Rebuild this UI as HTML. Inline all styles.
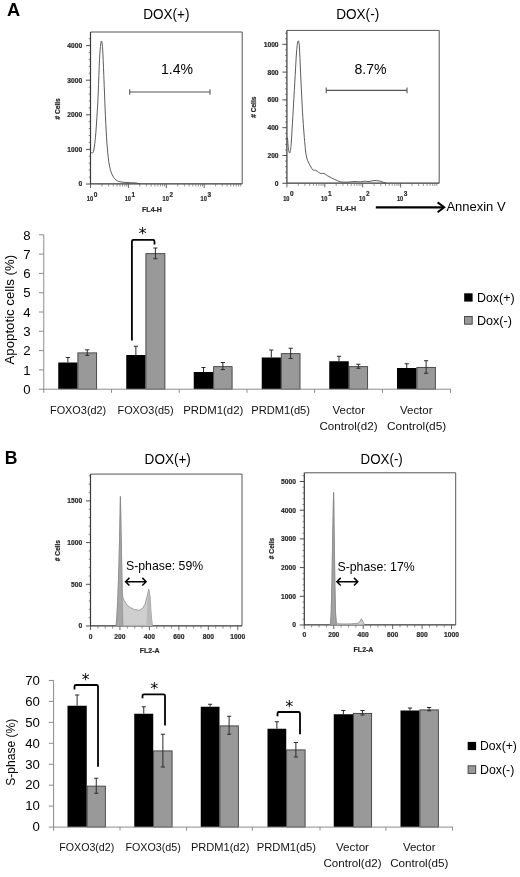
<!DOCTYPE html>
<html lang="en"><head><meta charset="utf-8"><title>Figure</title>
<style>html,body{margin:0;padding:0;background:#fff}svg{display:block}text{font-family:"Liberation Sans", sans-serif}.s{stroke:#2a2a2a;stroke-width:.22px}</style>
</head><body>
<svg width="520" height="877" viewBox="0 0 520 877">
<rect width="520" height="877" fill="#fff"/>
<text x="7.0" y="16.2" font-size="17.6" text-anchor="start" font-weight="bold" fill="#000" textLength="13.2" lengthAdjust="spacingAndGlyphs">A</text>
<text x="4.8" y="463.9" font-size="17.6" text-anchor="start" font-weight="bold" fill="#000">B</text>
<text x="143.2" y="18.7" font-size="14.8" text-anchor="start" font-weight="normal" fill="#000" textLength="46.3" lengthAdjust="spacingAndGlyphs">DOX(+)</text>
<text x="336.2" y="19.3" font-size="15.2" text-anchor="start" font-weight="normal" fill="#000" textLength="43" lengthAdjust="spacingAndGlyphs">DOX(-)</text>
<path d="M90.5 32H242.2V183.8" fill="none" stroke="#555" stroke-width="1"/>
<path d="M90.5 32V183.8H242.2" fill="none" stroke="#3a3a3a" stroke-width="1.2"/>
<line x1="86.0" y1="184" x2="90.5" y2="184" stroke="#3a3a3a" stroke-width="0.9"/>
<text x="82.2" y="186.4" font-size="6.7" text-anchor="end" font-weight="bold" fill="#2a2a2a" class="s">0</text>
<line x1="86.0" y1="149.4" x2="90.5" y2="149.4" stroke="#3a3a3a" stroke-width="0.9"/>
<text x="82.2" y="151.8" font-size="6.7" text-anchor="end" font-weight="bold" fill="#2a2a2a" class="s">1000</text>
<line x1="86.0" y1="114.8" x2="90.5" y2="114.8" stroke="#3a3a3a" stroke-width="0.9"/>
<text x="82.2" y="117.2" font-size="6.7" text-anchor="end" font-weight="bold" fill="#2a2a2a" class="s">2000</text>
<line x1="86.0" y1="80.2" x2="90.5" y2="80.2" stroke="#3a3a3a" stroke-width="0.9"/>
<text x="82.2" y="82.60000000000001" font-size="6.7" text-anchor="end" font-weight="bold" fill="#2a2a2a" class="s">3000</text>
<line x1="86.0" y1="45.6" x2="90.5" y2="45.6" stroke="#3a3a3a" stroke-width="0.9"/>
<text x="82.2" y="48.0" font-size="6.7" text-anchor="end" font-weight="bold" fill="#2a2a2a" class="s">4000</text>
<line x1="88.7" y1="177.08" x2="90.5" y2="177.08" stroke="#3a3a3a" stroke-width="0.6"/>
<line x1="88.7" y1="170.16" x2="90.5" y2="170.16" stroke="#3a3a3a" stroke-width="0.6"/>
<line x1="88.7" y1="163.24" x2="90.5" y2="163.24" stroke="#3a3a3a" stroke-width="0.6"/>
<line x1="88.7" y1="156.32" x2="90.5" y2="156.32" stroke="#3a3a3a" stroke-width="0.6"/>
<line x1="88.7" y1="142.48" x2="90.5" y2="142.48" stroke="#3a3a3a" stroke-width="0.6"/>
<line x1="88.7" y1="135.56" x2="90.5" y2="135.56" stroke="#3a3a3a" stroke-width="0.6"/>
<line x1="88.7" y1="128.64" x2="90.5" y2="128.64" stroke="#3a3a3a" stroke-width="0.6"/>
<line x1="88.7" y1="121.72" x2="90.5" y2="121.72" stroke="#3a3a3a" stroke-width="0.6"/>
<line x1="88.7" y1="107.88" x2="90.5" y2="107.88" stroke="#3a3a3a" stroke-width="0.6"/>
<line x1="88.7" y1="100.96" x2="90.5" y2="100.96" stroke="#3a3a3a" stroke-width="0.6"/>
<line x1="88.7" y1="94.04" x2="90.5" y2="94.04" stroke="#3a3a3a" stroke-width="0.6"/>
<line x1="88.7" y1="87.12" x2="90.5" y2="87.12" stroke="#3a3a3a" stroke-width="0.6"/>
<line x1="88.7" y1="73.28" x2="90.5" y2="73.28" stroke="#3a3a3a" stroke-width="0.6"/>
<line x1="88.7" y1="66.36" x2="90.5" y2="66.36" stroke="#3a3a3a" stroke-width="0.6"/>
<line x1="88.7" y1="59.44" x2="90.5" y2="59.44" stroke="#3a3a3a" stroke-width="0.6"/>
<line x1="88.7" y1="52.52" x2="90.5" y2="52.52" stroke="#3a3a3a" stroke-width="0.6"/>
<line x1="88.7" y1="38.68" x2="90.5" y2="38.68" stroke="#3a3a3a" stroke-width="0.6"/>
<line x1="90.5" y1="183.8" x2="90.5" y2="188.0" stroke="#555" stroke-width="0.9"/>
<line x1="101.91" y1="183.8" x2="101.91" y2="186.5" stroke="#666" stroke-width="0.7"/>
<line x1="108.58" y1="183.8" x2="108.58" y2="186.5" stroke="#666" stroke-width="0.7"/>
<line x1="113.32" y1="183.8" x2="113.32" y2="186.5" stroke="#666" stroke-width="0.7"/>
<line x1="116.99" y1="183.8" x2="116.99" y2="186.5" stroke="#666" stroke-width="0.7"/>
<line x1="119.99" y1="183.8" x2="119.99" y2="186.5" stroke="#666" stroke-width="0.7"/>
<line x1="122.53" y1="183.8" x2="122.53" y2="186.5" stroke="#666" stroke-width="0.7"/>
<line x1="124.73" y1="183.8" x2="124.73" y2="186.5" stroke="#666" stroke-width="0.7"/>
<line x1="126.67" y1="183.8" x2="126.67" y2="186.5" stroke="#666" stroke-width="0.7"/>
<text x="86.8" y="201.2" font-size="7.3" fill="#2a2a2a" font-weight="bold" class="s" textLength="6.3" lengthAdjust="spacingAndGlyphs">10</text>
<text x="93.7" y="196.9" font-size="7.1" fill="#2a2a2a" font-weight="bold" class="s" textLength="3.6" lengthAdjust="spacingAndGlyphs">0</text>
<line x1="128.4" y1="183.8" x2="128.4" y2="188.0" stroke="#555" stroke-width="0.9"/>
<line x1="139.81" y1="183.8" x2="139.81" y2="186.5" stroke="#666" stroke-width="0.7"/>
<line x1="146.48" y1="183.8" x2="146.48" y2="186.5" stroke="#666" stroke-width="0.7"/>
<line x1="151.22" y1="183.8" x2="151.22" y2="186.5" stroke="#666" stroke-width="0.7"/>
<line x1="154.89" y1="183.8" x2="154.89" y2="186.5" stroke="#666" stroke-width="0.7"/>
<line x1="157.89" y1="183.8" x2="157.89" y2="186.5" stroke="#666" stroke-width="0.7"/>
<line x1="160.43" y1="183.8" x2="160.43" y2="186.5" stroke="#666" stroke-width="0.7"/>
<line x1="162.63" y1="183.8" x2="162.63" y2="186.5" stroke="#666" stroke-width="0.7"/>
<line x1="164.57" y1="183.8" x2="164.57" y2="186.5" stroke="#666" stroke-width="0.7"/>
<text x="124.7" y="201.2" font-size="7.3" fill="#2a2a2a" font-weight="bold" class="s" textLength="6.3" lengthAdjust="spacingAndGlyphs">10</text>
<text x="131.6" y="196.9" font-size="7.1" fill="#2a2a2a" font-weight="bold" class="s" textLength="3.6" lengthAdjust="spacingAndGlyphs">1</text>
<line x1="166.3" y1="183.8" x2="166.3" y2="188.0" stroke="#555" stroke-width="0.9"/>
<line x1="177.71" y1="183.8" x2="177.71" y2="186.5" stroke="#666" stroke-width="0.7"/>
<line x1="184.38" y1="183.8" x2="184.38" y2="186.5" stroke="#666" stroke-width="0.7"/>
<line x1="189.12" y1="183.8" x2="189.12" y2="186.5" stroke="#666" stroke-width="0.7"/>
<line x1="192.79" y1="183.8" x2="192.79" y2="186.5" stroke="#666" stroke-width="0.7"/>
<line x1="195.79" y1="183.8" x2="195.79" y2="186.5" stroke="#666" stroke-width="0.7"/>
<line x1="198.33" y1="183.8" x2="198.33" y2="186.5" stroke="#666" stroke-width="0.7"/>
<line x1="200.53" y1="183.8" x2="200.53" y2="186.5" stroke="#666" stroke-width="0.7"/>
<line x1="202.47" y1="183.8" x2="202.47" y2="186.5" stroke="#666" stroke-width="0.7"/>
<text x="162.6" y="201.2" font-size="7.3" fill="#2a2a2a" font-weight="bold" class="s" textLength="6.3" lengthAdjust="spacingAndGlyphs">10</text>
<text x="169.5" y="196.9" font-size="7.1" fill="#2a2a2a" font-weight="bold" class="s" textLength="3.6" lengthAdjust="spacingAndGlyphs">2</text>
<line x1="204.2" y1="183.8" x2="204.2" y2="188.0" stroke="#555" stroke-width="0.9"/>
<line x1="215.61" y1="183.8" x2="215.61" y2="186.5" stroke="#666" stroke-width="0.7"/>
<line x1="222.28" y1="183.8" x2="222.28" y2="186.5" stroke="#666" stroke-width="0.7"/>
<line x1="227.02" y1="183.8" x2="227.02" y2="186.5" stroke="#666" stroke-width="0.7"/>
<line x1="230.69" y1="183.8" x2="230.69" y2="186.5" stroke="#666" stroke-width="0.7"/>
<line x1="233.69" y1="183.8" x2="233.69" y2="186.5" stroke="#666" stroke-width="0.7"/>
<line x1="236.23" y1="183.8" x2="236.23" y2="186.5" stroke="#666" stroke-width="0.7"/>
<line x1="238.43" y1="183.8" x2="238.43" y2="186.5" stroke="#666" stroke-width="0.7"/>
<line x1="240.37" y1="183.8" x2="240.37" y2="186.5" stroke="#666" stroke-width="0.7"/>
<text x="200.5" y="201.2" font-size="7.3" fill="#2a2a2a" font-weight="bold" class="s" textLength="6.3" lengthAdjust="spacingAndGlyphs">10</text>
<text x="207.4" y="196.9" font-size="7.1" fill="#2a2a2a" font-weight="bold" class="s" textLength="3.6" lengthAdjust="spacingAndGlyphs">3</text>
<text transform="translate(60.1 108.9) rotate(-90)" font-size="6.6" text-anchor="middle" font-weight="bold" fill="#2a2a2a" class="s"># Cells</text>
<text x="152" y="212.4" font-size="7.0" text-anchor="middle" font-weight="bold" fill="#2a2a2a" class="s">FL4-H</text>
<path d="M91.2 152.6 C92.3 153.4 93 153 93.6 151.3 C94.6 146 95.2 140 95.9 132.2 C96.6 122 97.2 113 97.8 103 C98.3 91 98.8 78 99.2 66.5 C99.6 57 100 50 100.5 46.4 C100.8 43 101.1 41 101.4 41 C101.8 41 102.1 43 102.5 46.4 C103 55 103.4 65 103.8 75.6 C104.3 89 104.9 103 105.4 115.8 C105.9 126 106.4 135 106.9 143.1 C107.5 150 108.1 156 108.7 161.4 C109.3 165 109.9 168 110.5 170.5 C111.4 173 112.3 175.2 113.3 176.9 C114.2 178.2 115.1 179.2 116 180 C117 180.7 117.9 181.2 118.8 181.5 C121 182 123 182.3 125.1 182.4 C129 182.6 132 182.7 136 183 C137.5 183.2 138.5 183.5 139.7 183.8" fill="none" stroke="#4a4a4a" stroke-width="0.9"/>
<path d="M129.7 92H210M129.7 89.2V94.8M210 89.2V94.8" fill="none" stroke="#555" stroke-width="1.1"/>
<text x="161" y="74.2" font-size="14" text-anchor="start" font-weight="normal" fill="#000" textLength="32" lengthAdjust="spacingAndGlyphs">1.4%</text>
<path d="M286.9 30.4H439.2V183.2" fill="none" stroke="#555" stroke-width="1"/>
<path d="M286.9 30.4V183.2H439.2" fill="none" stroke="#3a3a3a" stroke-width="1.2"/>
<line x1="282.4" y1="183.3" x2="286.9" y2="183.3" stroke="#3a3a3a" stroke-width="0.9"/>
<text x="278.59999999999997" y="185.70000000000002" font-size="6.7" text-anchor="end" font-weight="bold" fill="#2a2a2a" class="s">0</text>
<line x1="282.4" y1="155.5" x2="286.9" y2="155.5" stroke="#3a3a3a" stroke-width="0.9"/>
<text x="278.59999999999997" y="157.9" font-size="6.7" text-anchor="end" font-weight="bold" fill="#2a2a2a" class="s">200</text>
<line x1="282.4" y1="127.7" x2="286.9" y2="127.7" stroke="#3a3a3a" stroke-width="0.9"/>
<text x="278.59999999999997" y="130.1" font-size="6.7" text-anchor="end" font-weight="bold" fill="#2a2a2a" class="s">400</text>
<line x1="282.4" y1="99.9" x2="286.9" y2="99.9" stroke="#3a3a3a" stroke-width="0.9"/>
<text x="278.59999999999997" y="102.30000000000001" font-size="6.7" text-anchor="end" font-weight="bold" fill="#2a2a2a" class="s">600</text>
<line x1="282.4" y1="72.1" x2="286.9" y2="72.1" stroke="#3a3a3a" stroke-width="0.9"/>
<text x="278.59999999999997" y="74.5" font-size="6.7" text-anchor="end" font-weight="bold" fill="#2a2a2a" class="s">800</text>
<line x1="282.4" y1="44.3" x2="286.9" y2="44.3" stroke="#3a3a3a" stroke-width="0.9"/>
<text x="278.59999999999997" y="46.699999999999996" font-size="6.7" text-anchor="end" font-weight="bold" fill="#2a2a2a" class="s">1000</text>
<line x1="285.09999999999997" y1="177.74" x2="286.9" y2="177.74" stroke="#3a3a3a" stroke-width="0.6"/>
<line x1="285.09999999999997" y1="172.18" x2="286.9" y2="172.18" stroke="#3a3a3a" stroke-width="0.6"/>
<line x1="285.09999999999997" y1="166.62" x2="286.9" y2="166.62" stroke="#3a3a3a" stroke-width="0.6"/>
<line x1="285.09999999999997" y1="161.06" x2="286.9" y2="161.06" stroke="#3a3a3a" stroke-width="0.6"/>
<line x1="285.09999999999997" y1="149.94" x2="286.9" y2="149.94" stroke="#3a3a3a" stroke-width="0.6"/>
<line x1="285.09999999999997" y1="144.38" x2="286.9" y2="144.38" stroke="#3a3a3a" stroke-width="0.6"/>
<line x1="285.09999999999997" y1="138.82" x2="286.9" y2="138.82" stroke="#3a3a3a" stroke-width="0.6"/>
<line x1="285.09999999999997" y1="133.26" x2="286.9" y2="133.26" stroke="#3a3a3a" stroke-width="0.6"/>
<line x1="285.09999999999997" y1="122.14" x2="286.9" y2="122.14" stroke="#3a3a3a" stroke-width="0.6"/>
<line x1="285.09999999999997" y1="116.58" x2="286.9" y2="116.58" stroke="#3a3a3a" stroke-width="0.6"/>
<line x1="285.09999999999997" y1="111.02" x2="286.9" y2="111.02" stroke="#3a3a3a" stroke-width="0.6"/>
<line x1="285.09999999999997" y1="105.46" x2="286.9" y2="105.46" stroke="#3a3a3a" stroke-width="0.6"/>
<line x1="285.09999999999997" y1="94.34" x2="286.9" y2="94.34" stroke="#3a3a3a" stroke-width="0.6"/>
<line x1="285.09999999999997" y1="88.78" x2="286.9" y2="88.78" stroke="#3a3a3a" stroke-width="0.6"/>
<line x1="285.09999999999997" y1="83.22" x2="286.9" y2="83.22" stroke="#3a3a3a" stroke-width="0.6"/>
<line x1="285.09999999999997" y1="77.66" x2="286.9" y2="77.66" stroke="#3a3a3a" stroke-width="0.6"/>
<line x1="285.09999999999997" y1="66.54" x2="286.9" y2="66.54" stroke="#3a3a3a" stroke-width="0.6"/>
<line x1="285.09999999999997" y1="60.98" x2="286.9" y2="60.98" stroke="#3a3a3a" stroke-width="0.6"/>
<line x1="285.09999999999997" y1="55.42" x2="286.9" y2="55.42" stroke="#3a3a3a" stroke-width="0.6"/>
<line x1="285.09999999999997" y1="49.86" x2="286.9" y2="49.86" stroke="#3a3a3a" stroke-width="0.6"/>
<line x1="285.09999999999997" y1="38.74" x2="286.9" y2="38.74" stroke="#3a3a3a" stroke-width="0.6"/>
<line x1="285.09999999999997" y1="33.18" x2="286.9" y2="33.18" stroke="#3a3a3a" stroke-width="0.6"/>
<line x1="286.9" y1="183.2" x2="286.9" y2="187.39999999999998" stroke="#555" stroke-width="0.9"/>
<line x1="298.31" y1="183.2" x2="298.31" y2="185.89999999999998" stroke="#666" stroke-width="0.7"/>
<line x1="304.98" y1="183.2" x2="304.98" y2="185.89999999999998" stroke="#666" stroke-width="0.7"/>
<line x1="309.72" y1="183.2" x2="309.72" y2="185.89999999999998" stroke="#666" stroke-width="0.7"/>
<line x1="313.39" y1="183.2" x2="313.39" y2="185.89999999999998" stroke="#666" stroke-width="0.7"/>
<line x1="316.39" y1="183.2" x2="316.39" y2="185.89999999999998" stroke="#666" stroke-width="0.7"/>
<line x1="318.93" y1="183.2" x2="318.93" y2="185.89999999999998" stroke="#666" stroke-width="0.7"/>
<line x1="321.13" y1="183.2" x2="321.13" y2="185.89999999999998" stroke="#666" stroke-width="0.7"/>
<line x1="323.07" y1="183.2" x2="323.07" y2="185.89999999999998" stroke="#666" stroke-width="0.7"/>
<text x="283.2" y="200.6" font-size="7.3" fill="#2a2a2a" font-weight="bold" class="s" textLength="6.3" lengthAdjust="spacingAndGlyphs">10</text>
<text x="290.1" y="196.3" font-size="7.1" fill="#2a2a2a" font-weight="bold" class="s" textLength="3.6" lengthAdjust="spacingAndGlyphs">0</text>
<line x1="324.79999999999995" y1="183.2" x2="324.79999999999995" y2="187.39999999999998" stroke="#555" stroke-width="0.9"/>
<line x1="336.21" y1="183.2" x2="336.21" y2="185.89999999999998" stroke="#666" stroke-width="0.7"/>
<line x1="342.88" y1="183.2" x2="342.88" y2="185.89999999999998" stroke="#666" stroke-width="0.7"/>
<line x1="347.62" y1="183.2" x2="347.62" y2="185.89999999999998" stroke="#666" stroke-width="0.7"/>
<line x1="351.29" y1="183.2" x2="351.29" y2="185.89999999999998" stroke="#666" stroke-width="0.7"/>
<line x1="354.29" y1="183.2" x2="354.29" y2="185.89999999999998" stroke="#666" stroke-width="0.7"/>
<line x1="356.83" y1="183.2" x2="356.83" y2="185.89999999999998" stroke="#666" stroke-width="0.7"/>
<line x1="359.03" y1="183.2" x2="359.03" y2="185.89999999999998" stroke="#666" stroke-width="0.7"/>
<line x1="360.97" y1="183.2" x2="360.97" y2="185.89999999999998" stroke="#666" stroke-width="0.7"/>
<text x="321.1" y="200.6" font-size="7.3" fill="#2a2a2a" font-weight="bold" class="s" textLength="6.3" lengthAdjust="spacingAndGlyphs">10</text>
<text x="328.0" y="196.3" font-size="7.1" fill="#2a2a2a" font-weight="bold" class="s" textLength="3.6" lengthAdjust="spacingAndGlyphs">1</text>
<line x1="362.7" y1="183.2" x2="362.7" y2="187.39999999999998" stroke="#555" stroke-width="0.9"/>
<line x1="374.11" y1="183.2" x2="374.11" y2="185.89999999999998" stroke="#666" stroke-width="0.7"/>
<line x1="380.78" y1="183.2" x2="380.78" y2="185.89999999999998" stroke="#666" stroke-width="0.7"/>
<line x1="385.52" y1="183.2" x2="385.52" y2="185.89999999999998" stroke="#666" stroke-width="0.7"/>
<line x1="389.19" y1="183.2" x2="389.19" y2="185.89999999999998" stroke="#666" stroke-width="0.7"/>
<line x1="392.19" y1="183.2" x2="392.19" y2="185.89999999999998" stroke="#666" stroke-width="0.7"/>
<line x1="394.73" y1="183.2" x2="394.73" y2="185.89999999999998" stroke="#666" stroke-width="0.7"/>
<line x1="396.93" y1="183.2" x2="396.93" y2="185.89999999999998" stroke="#666" stroke-width="0.7"/>
<line x1="398.87" y1="183.2" x2="398.87" y2="185.89999999999998" stroke="#666" stroke-width="0.7"/>
<text x="359.0" y="200.6" font-size="7.3" fill="#2a2a2a" font-weight="bold" class="s" textLength="6.3" lengthAdjust="spacingAndGlyphs">10</text>
<text x="365.9" y="196.3" font-size="7.1" fill="#2a2a2a" font-weight="bold" class="s" textLength="3.6" lengthAdjust="spacingAndGlyphs">2</text>
<line x1="400.59999999999997" y1="183.2" x2="400.59999999999997" y2="187.39999999999998" stroke="#555" stroke-width="0.9"/>
<line x1="412.01" y1="183.2" x2="412.01" y2="185.89999999999998" stroke="#666" stroke-width="0.7"/>
<line x1="418.68" y1="183.2" x2="418.68" y2="185.89999999999998" stroke="#666" stroke-width="0.7"/>
<line x1="423.42" y1="183.2" x2="423.42" y2="185.89999999999998" stroke="#666" stroke-width="0.7"/>
<line x1="427.09" y1="183.2" x2="427.09" y2="185.89999999999998" stroke="#666" stroke-width="0.7"/>
<line x1="430.09" y1="183.2" x2="430.09" y2="185.89999999999998" stroke="#666" stroke-width="0.7"/>
<line x1="432.63" y1="183.2" x2="432.63" y2="185.89999999999998" stroke="#666" stroke-width="0.7"/>
<line x1="434.83" y1="183.2" x2="434.83" y2="185.89999999999998" stroke="#666" stroke-width="0.7"/>
<line x1="436.77" y1="183.2" x2="436.77" y2="185.89999999999998" stroke="#666" stroke-width="0.7"/>
<text x="396.9" y="200.6" font-size="7.3" fill="#2a2a2a" font-weight="bold" class="s" textLength="6.3" lengthAdjust="spacingAndGlyphs">10</text>
<text x="403.8" y="196.3" font-size="7.1" fill="#2a2a2a" font-weight="bold" class="s" textLength="3.6" lengthAdjust="spacingAndGlyphs">3</text>
<text transform="translate(255.6 107.2) rotate(-90)" font-size="6.6" text-anchor="middle" font-weight="bold" fill="#2a2a2a" class="s"># Cells</text>
<text x="346.2" y="211.4" font-size="7.0" text-anchor="middle" font-weight="bold" fill="#2a2a2a" class="s">FL4-H</text>
<path d="M287.5 137.5 C287.8 142 288.1 146 288.4 148.4 C288.8 151.5 289.2 153 289.7 153 C290.2 153 290.7 149 291.1 144.8 C291.7 136 292.3 126 292.9 115.6 C293.5 104 294.2 93 294.8 82.7 C295.3 73 295.8 64 296.2 57.2 C296.6 51 296.9 47 297.3 44.4 C297.6 42 297.9 40.8 298.2 40.8 C298.6 40.8 298.9 42 299.3 45.3 C299.8 54 300.2 63 300.6 73.6 C301.2 86 301.8 98 302.4 110.1 C303 120 303.6 129 304.3 137.5 C304.8 143 305.2 148 305.7 152.1 C306.3 156 306.9 158.5 307.5 160.3 C308.4 162.5 309.3 164.3 310.3 165.8 C311.2 167.5 312.1 169.3 313 170 C313.9 170.5 314.8 169.9 315.8 170.3 C316.7 170.8 317.6 171.7 318.5 172.2 C319.4 172.8 320.3 173.5 321.2 173.6 C322.1 173.6 323 173.1 324 173.4 C325.2 174 326.4 175 327.6 175.8 C330 177.2 332.5 178.4 334.9 179.5 C336.7 180.4 338.5 181.2 340.4 181.8 C342.6 182.2 344.8 182.2 347 182.2 C350 182 352 181.6 355 181.5 C358 181.6 360 182 362 181.6 C364 181 366 181.2 368 181.6 C370 181.4 372 180.8 374 180.6 C377 180.5 379 180.8 381 181.4 C383 182.2 384.5 182.8 386 183.1" fill="none" stroke="#4a4a4a" stroke-width="0.9"/>
<path d="M326.2 90.4H407M326.2 87.6V93.2M407 87.6V93.2" fill="none" stroke="#555" stroke-width="1.1"/>
<text x="354.5" y="74.3" font-size="14" text-anchor="start" font-weight="normal" fill="#000" textLength="32" lengthAdjust="spacingAndGlyphs">8.7%</text>
<path d="M375.8 207.3H443" fill="none" stroke="#000" stroke-width="2.2"/>
<path d="M437.6 202.4L444.2 207.3L437.6 212.3" fill="none" stroke="#000" stroke-width="2" stroke-linejoin="miter"/>
<text x="446.4" y="211.2" font-size="13.2" text-anchor="start" font-weight="normal" fill="#000" textLength="59.2" lengthAdjust="spacingAndGlyphs">Annexin V</text>
<rect x="58.25" y="362.5" width="19.25" height="26.7" fill="#000"/>
<rect x="77.9" y="352.9" width="18.7" height="36.3" fill="#999" stroke="#3c3c3c" stroke-width="0.9"/>
<path d="M67.88 362.5V357.5M65.78 357.5H69.97999999999999" fill="none" stroke="#2a2a2a" stroke-width="1.0"/>
<path d="M87.25 355.4V349.8M85.15 349.8H89.35M85.15 355.4H89.35" fill="none" stroke="#2a2a2a" stroke-width="1.0"/>
<rect x="126.25" y="355" width="19.25" height="34.2" fill="#000"/>
<rect x="145.9" y="253.65" width="19.0" height="135.55" fill="#999" stroke="#3c3c3c" stroke-width="0.9"/>
<path d="M135.88 355V346.25M133.78 346.25H137.98" fill="none" stroke="#2a2a2a" stroke-width="1.0"/>
<path d="M155.4 258.75V248M153.3 248H157.5M153.3 258.75H157.5" fill="none" stroke="#2a2a2a" stroke-width="1.0"/>
<rect x="193.75" y="372" width="19.5" height="17.2" fill="#000"/>
<rect x="213.65" y="366.65" width="18.45" height="22.55" fill="#999" stroke="#3c3c3c" stroke-width="0.9"/>
<path d="M203.5 372V367.5M201.4 367.5H205.6" fill="none" stroke="#2a2a2a" stroke-width="1.0"/>
<path d="M222.88 369.6V362.5M220.78 362.5H224.98M220.78 369.6H224.98" fill="none" stroke="#2a2a2a" stroke-width="1.0"/>
<rect x="261.75" y="357.5" width="19.15" height="31.7" fill="#000"/>
<rect x="281.29999999999995" y="353.65" width="18.7" height="35.55" fill="#999" stroke="#3c3c3c" stroke-width="0.9"/>
<path d="M271.32 357.5V350M269.21999999999997 350H273.42" fill="none" stroke="#2a2a2a" stroke-width="1.0"/>
<path d="M290.65 358.5V348.25M288.54999999999995 348.25H292.75M288.54999999999995 358.5H292.75" fill="none" stroke="#2a2a2a" stroke-width="1.0"/>
<rect x="329.25" y="361.25" width="19.5" height="27.95" fill="#000"/>
<rect x="349.15" y="366.65" width="18.45" height="22.55" fill="#999" stroke="#3c3c3c" stroke-width="0.9"/>
<path d="M339.0 361.25V356.25M336.9 356.25H341.1" fill="none" stroke="#2a2a2a" stroke-width="1.0"/>
<path d="M358.38 368.25V364.25M356.28 364.25H360.48M356.28 368.25H360.48" fill="none" stroke="#2a2a2a" stroke-width="1.0"/>
<rect x="397" y="368" width="19.5" height="21.2" fill="#000"/>
<rect x="416.9" y="367.4" width="18.45" height="21.8" fill="#999" stroke="#3c3c3c" stroke-width="0.9"/>
<path d="M406.75 368V363.75M404.65 363.75H408.85" fill="none" stroke="#2a2a2a" stroke-width="1.0"/>
<path d="M426.12 373.25V360.75M424.02 360.75H428.22M424.02 373.25H428.22" fill="none" stroke="#2a2a2a" stroke-width="1.0"/>
<line x1="43.75" y1="234.79999999999998" x2="43.75" y2="389.7" stroke="#8c8c8c" stroke-width="1"/>
<line x1="43.25" y1="389.2" x2="451.0" y2="389.2" stroke="#8c8c8c" stroke-width="1"/>
<line x1="38.95" y1="389.2" x2="43.75" y2="389.2" stroke="#8c8c8c" stroke-width="1"/>
<text x="30.6" y="393.9" font-size="13.2" text-anchor="end" font-weight="normal" fill="#000">0</text>
<line x1="38.95" y1="369.9" x2="43.75" y2="369.9" stroke="#8c8c8c" stroke-width="1"/>
<text x="30.6" y="374.6" font-size="13.2" text-anchor="end" font-weight="normal" fill="#000">1</text>
<line x1="38.95" y1="350.6" x2="43.75" y2="350.6" stroke="#8c8c8c" stroke-width="1"/>
<text x="30.6" y="355.3" font-size="13.2" text-anchor="end" font-weight="normal" fill="#000">2</text>
<line x1="38.95" y1="331.3" x2="43.75" y2="331.3" stroke="#8c8c8c" stroke-width="1"/>
<text x="30.6" y="336.0" font-size="13.2" text-anchor="end" font-weight="normal" fill="#000">3</text>
<line x1="38.95" y1="312.0" x2="43.75" y2="312.0" stroke="#8c8c8c" stroke-width="1"/>
<text x="30.6" y="316.7" font-size="13.2" text-anchor="end" font-weight="normal" fill="#000">4</text>
<line x1="38.95" y1="292.7" x2="43.75" y2="292.7" stroke="#8c8c8c" stroke-width="1"/>
<text x="30.6" y="297.4" font-size="13.2" text-anchor="end" font-weight="normal" fill="#000">5</text>
<line x1="38.95" y1="273.4" x2="43.75" y2="273.4" stroke="#8c8c8c" stroke-width="1"/>
<text x="30.6" y="278.1" font-size="13.2" text-anchor="end" font-weight="normal" fill="#000">6</text>
<line x1="38.95" y1="254.1" x2="43.75" y2="254.1" stroke="#8c8c8c" stroke-width="1"/>
<text x="30.6" y="258.8" font-size="13.2" text-anchor="end" font-weight="normal" fill="#000">7</text>
<line x1="38.95" y1="234.8" x2="43.75" y2="234.8" stroke="#8c8c8c" stroke-width="1"/>
<text x="30.6" y="239.5" font-size="13.2" text-anchor="end" font-weight="normal" fill="#000">8</text>
<line x1="111.5" y1="389.2" x2="111.5" y2="392.8" stroke="#8c8c8c" stroke-width="1"/>
<line x1="179.25" y1="389.2" x2="179.25" y2="392.8" stroke="#8c8c8c" stroke-width="1"/>
<line x1="247" y1="389.2" x2="247" y2="392.8" stroke="#8c8c8c" stroke-width="1"/>
<line x1="314.6" y1="389.2" x2="314.6" y2="392.8" stroke="#8c8c8c" stroke-width="1"/>
<line x1="382.5" y1="389.2" x2="382.5" y2="392.8" stroke="#8c8c8c" stroke-width="1"/>
<line x1="450.5" y1="389.2" x2="450.5" y2="392.8" stroke="#8c8c8c" stroke-width="1"/>
<line x1="43.75" y1="389.2" x2="43.75" y2="392.8" stroke="#8c8c8c" stroke-width="1"/>
<text transform="translate(14.2 309.7) rotate(-90)" font-size="13.2" text-anchor="middle" font-weight="normal" fill="#000" textLength="109.5" lengthAdjust="spacingAndGlyphs">Apoptotic cells (%)</text>
<path d="M131.9 340.5V241.4Q131.9 239.9 133.4 239.9H153Q154.5 239.9 154.5 241.4V244.6" fill="none" stroke="#000" stroke-width="1.8"/>
<text x="142.6" y="238.77" font-size="16.5" text-anchor="middle" style="font-family:'DejaVu Sans',sans-serif">*</text>
<text x="50" y="413.9" font-size="11.6" text-anchor="start" font-weight="normal" fill="#111" textLength="56.25" lengthAdjust="spacingAndGlyphs">FOXO3(d2)</text>
<text x="117.5" y="413.9" font-size="11.6" text-anchor="start" font-weight="normal" fill="#111" textLength="56.25" lengthAdjust="spacingAndGlyphs">FOXO3(d5)</text>
<text x="183.25" y="413.9" font-size="11.6" text-anchor="start" font-weight="normal" fill="#111" textLength="60.0" lengthAdjust="spacingAndGlyphs">PRDM1(d2)</text>
<text x="251.25" y="413.9" font-size="11.6" text-anchor="start" font-weight="normal" fill="#111" textLength="58.75" lengthAdjust="spacingAndGlyphs">PRDM1(d5)</text>
<text x="332.5" y="413.9" font-size="11.6" text-anchor="start" font-weight="normal" fill="#111" textLength="32.5" lengthAdjust="spacingAndGlyphs">Vector</text>
<text x="319.5" y="429.6" font-size="11.6" text-anchor="start" font-weight="normal" fill="#111" textLength="58.0" lengthAdjust="spacingAndGlyphs">Control(d2)</text>
<text x="400" y="413.9" font-size="11.6" text-anchor="start" font-weight="normal" fill="#111" textLength="32.5" lengthAdjust="spacingAndGlyphs">Vector</text>
<text x="387" y="429.6" font-size="11.6" text-anchor="start" font-weight="normal" fill="#111" textLength="59.25" lengthAdjust="spacingAndGlyphs">Control(d5)</text>
<rect x="464.2" y="293.3" width="8.4" height="8.3" fill="#000"/>
<rect x="464.6" y="316.5" width="7.6" height="7.7" fill="#999" stroke="#3c3c3c" stroke-width="0.9"/>
<text x="476.9" y="301.9" font-size="12.8" text-anchor="start" font-weight="normal" fill="#000" textLength="37.7" lengthAdjust="spacingAndGlyphs">Dox(+)</text>
<text x="476.9" y="324.7" font-size="12.8" text-anchor="start" font-weight="normal" fill="#000" textLength="35.1" lengthAdjust="spacingAndGlyphs">Dox(-)</text>
<text x="144.6" y="464.2" font-size="15.0" text-anchor="start" font-weight="normal" fill="#000" textLength="46.3" lengthAdjust="spacingAndGlyphs">DOX(+)</text>
<text x="360.6" y="464.1" font-size="15.2" text-anchor="start" font-weight="normal" fill="#000" textLength="42.2" lengthAdjust="spacingAndGlyphs">DOX(-)</text>
<path d="M90.5 474.1H242V625.9" fill="none" stroke="#555" stroke-width="1"/>
<path d="M90.5 474.1V625.9H242" fill="none" stroke="#3a3a3a" stroke-width="1.2"/>
<line x1="86.0" y1="626" x2="90.5" y2="626" stroke="#3a3a3a" stroke-width="0.9"/>
<text x="82.2" y="628.4" font-size="6.7" text-anchor="end" font-weight="bold" fill="#2a2a2a" class="s">0</text>
<line x1="86.0" y1="584.3" x2="90.5" y2="584.3" stroke="#3a3a3a" stroke-width="0.9"/>
<text x="82.2" y="586.6999999999999" font-size="6.7" text-anchor="end" font-weight="bold" fill="#2a2a2a" class="s">500</text>
<line x1="86.0" y1="542.6" x2="90.5" y2="542.6" stroke="#3a3a3a" stroke-width="0.9"/>
<text x="82.2" y="545.0" font-size="6.7" text-anchor="end" font-weight="bold" fill="#2a2a2a" class="s">1000</text>
<line x1="86.0" y1="500.9" x2="90.5" y2="500.9" stroke="#3a3a3a" stroke-width="0.9"/>
<text x="82.2" y="503.29999999999995" font-size="6.7" text-anchor="end" font-weight="bold" fill="#2a2a2a" class="s">1500</text>
<line x1="88.7" y1="617.66" x2="90.5" y2="617.66" stroke="#3a3a3a" stroke-width="0.6"/>
<line x1="88.7" y1="609.32" x2="90.5" y2="609.32" stroke="#3a3a3a" stroke-width="0.6"/>
<line x1="88.7" y1="600.98" x2="90.5" y2="600.98" stroke="#3a3a3a" stroke-width="0.6"/>
<line x1="88.7" y1="592.64" x2="90.5" y2="592.64" stroke="#3a3a3a" stroke-width="0.6"/>
<line x1="88.7" y1="575.96" x2="90.5" y2="575.96" stroke="#3a3a3a" stroke-width="0.6"/>
<line x1="88.7" y1="567.62" x2="90.5" y2="567.62" stroke="#3a3a3a" stroke-width="0.6"/>
<line x1="88.7" y1="559.28" x2="90.5" y2="559.28" stroke="#3a3a3a" stroke-width="0.6"/>
<line x1="88.7" y1="550.94" x2="90.5" y2="550.94" stroke="#3a3a3a" stroke-width="0.6"/>
<line x1="88.7" y1="534.26" x2="90.5" y2="534.26" stroke="#3a3a3a" stroke-width="0.6"/>
<line x1="88.7" y1="525.92" x2="90.5" y2="525.92" stroke="#3a3a3a" stroke-width="0.6"/>
<line x1="88.7" y1="517.58" x2="90.5" y2="517.58" stroke="#3a3a3a" stroke-width="0.6"/>
<line x1="88.7" y1="509.24" x2="90.5" y2="509.24" stroke="#3a3a3a" stroke-width="0.6"/>
<line x1="88.7" y1="492.56" x2="90.5" y2="492.56" stroke="#3a3a3a" stroke-width="0.6"/>
<line x1="88.7" y1="484.22" x2="90.5" y2="484.22" stroke="#3a3a3a" stroke-width="0.6"/>
<line x1="88.7" y1="475.88" x2="90.5" y2="475.88" stroke="#3a3a3a" stroke-width="0.6"/>
<line x1="90.5" y1="625.9" x2="90.5" y2="630.1" stroke="#555" stroke-width="0.9"/>
<text x="90.5" y="638.5" font-size="6.7" text-anchor="middle" font-weight="bold" fill="#2a2a2a" class="s">0</text>
<line x1="97.86" y1="625.9" x2="97.86" y2="628.6" stroke="#666" stroke-width="0.7"/>
<line x1="105.22" y1="625.9" x2="105.22" y2="628.6" stroke="#666" stroke-width="0.7"/>
<line x1="112.59" y1="625.9" x2="112.59" y2="628.6" stroke="#666" stroke-width="0.7"/>
<line x1="119.95" y1="625.9" x2="119.95" y2="630.1" stroke="#555" stroke-width="0.9"/>
<text x="119.95" y="638.5" font-size="6.7" text-anchor="middle" font-weight="bold" fill="#2a2a2a" class="s">200</text>
<line x1="127.31" y1="625.9" x2="127.31" y2="628.6" stroke="#666" stroke-width="0.7"/>
<line x1="134.68" y1="625.9" x2="134.68" y2="628.6" stroke="#666" stroke-width="0.7"/>
<line x1="142.04" y1="625.9" x2="142.04" y2="628.6" stroke="#666" stroke-width="0.7"/>
<line x1="149.4" y1="625.9" x2="149.4" y2="630.1" stroke="#555" stroke-width="0.9"/>
<text x="149.4" y="638.5" font-size="6.7" text-anchor="middle" font-weight="bold" fill="#2a2a2a" class="s">400</text>
<line x1="156.76" y1="625.9" x2="156.76" y2="628.6" stroke="#666" stroke-width="0.7"/>
<line x1="164.12" y1="625.9" x2="164.12" y2="628.6" stroke="#666" stroke-width="0.7"/>
<line x1="171.49" y1="625.9" x2="171.49" y2="628.6" stroke="#666" stroke-width="0.7"/>
<line x1="178.85" y1="625.9" x2="178.85" y2="630.1" stroke="#555" stroke-width="0.9"/>
<text x="178.85" y="638.5" font-size="6.7" text-anchor="middle" font-weight="bold" fill="#2a2a2a" class="s">600</text>
<line x1="186.21" y1="625.9" x2="186.21" y2="628.6" stroke="#666" stroke-width="0.7"/>
<line x1="193.57" y1="625.9" x2="193.57" y2="628.6" stroke="#666" stroke-width="0.7"/>
<line x1="200.94" y1="625.9" x2="200.94" y2="628.6" stroke="#666" stroke-width="0.7"/>
<line x1="208.3" y1="625.9" x2="208.3" y2="630.1" stroke="#555" stroke-width="0.9"/>
<text x="208.3" y="638.5" font-size="6.7" text-anchor="middle" font-weight="bold" fill="#2a2a2a" class="s">800</text>
<line x1="215.66" y1="625.9" x2="215.66" y2="628.6" stroke="#666" stroke-width="0.7"/>
<line x1="223.03" y1="625.9" x2="223.03" y2="628.6" stroke="#666" stroke-width="0.7"/>
<line x1="230.39" y1="625.9" x2="230.39" y2="628.6" stroke="#666" stroke-width="0.7"/>
<line x1="237.75" y1="625.9" x2="237.75" y2="630.1" stroke="#555" stroke-width="0.9"/>
<text x="237.75" y="638.5" font-size="6.7" text-anchor="middle" font-weight="bold" fill="#2a2a2a" class="s">1000</text>
<text transform="translate(60.1 550.7) rotate(-90)" font-size="6.6" text-anchor="middle" font-weight="bold" fill="#2a2a2a" class="s"># Cells</text>
<text x="149.7" y="653.4" font-size="7.0" text-anchor="middle" font-weight="bold" fill="#2a2a2a" class="s">FL2-A</text>
<path d="M116 626L116.7 617.8L117.7 601.8L118.8 569.9L119.6 537.9L120.2 505L120.4 496.2L120.6 505L121.2 537.9L121.8 569.9L122.3 593L122.9 597.5L124.2 600.4L126.9 605L130.5 607.7L132.3 608.3L134.2 609.6L136.4 609.7L138.8 610.5L140.6 609.6L142.4 608.6L145.1 604.1L147 596.8L148.8 589.1L150.1 596.8L151.2 615L152.4 626Z" fill="#cfcfcf" stroke="#8a8a8a" stroke-width="0.8" stroke-linejoin="round"/>
<path d="M116.3 626L116.8 617.8L117.7 601.8L118.8 569.9L119.6 537.9L120.4 497L121.2 537.9L121.8 569.9L122.2 595L122.6 612L123 626Z" fill="#a6a6a6" stroke="#808080" stroke-width="0.5"/>
<path d="M146.4 626L147.5 600L148.8 589.6L150.1 596.8L151.2 615L152.3 626Z" fill="#b9b9b9" stroke="none"/>
<path d="M125.8 581.7H145.89999999999998M129.4 577.9000000000001L125.6 581.7L129.4 585.5M142.29999999999998 577.9000000000001L146.1 581.7L142.29999999999998 585.5" fill="none" stroke="#000" stroke-width="1.5" stroke-linejoin="miter"/>
<text x="126" y="570.2" font-size="13" text-anchor="start" font-weight="normal" fill="#000" textLength="77.2" lengthAdjust="spacingAndGlyphs">S-phase: 59%</text>
<path d="M304.3 472.8H455.7V624.8" fill="none" stroke="#555" stroke-width="1"/>
<path d="M304.3 472.8V624.8H455.7" fill="none" stroke="#3a3a3a" stroke-width="1.2"/>
<line x1="299.8" y1="625" x2="304.3" y2="625" stroke="#3a3a3a" stroke-width="0.9"/>
<text x="296.0" y="627.4" font-size="6.7" text-anchor="end" font-weight="bold" fill="#2a2a2a" class="s">0</text>
<line x1="299.8" y1="596.3" x2="304.3" y2="596.3" stroke="#3a3a3a" stroke-width="0.9"/>
<text x="296.0" y="598.6999999999999" font-size="6.7" text-anchor="end" font-weight="bold" fill="#2a2a2a" class="s">1000</text>
<line x1="299.8" y1="567.6" x2="304.3" y2="567.6" stroke="#3a3a3a" stroke-width="0.9"/>
<text x="296.0" y="570.0" font-size="6.7" text-anchor="end" font-weight="bold" fill="#2a2a2a" class="s">2000</text>
<line x1="299.8" y1="538.9" x2="304.3" y2="538.9" stroke="#3a3a3a" stroke-width="0.9"/>
<text x="296.0" y="541.3" font-size="6.7" text-anchor="end" font-weight="bold" fill="#2a2a2a" class="s">3000</text>
<line x1="299.8" y1="510.2" x2="304.3" y2="510.2" stroke="#3a3a3a" stroke-width="0.9"/>
<text x="296.0" y="512.6" font-size="6.7" text-anchor="end" font-weight="bold" fill="#2a2a2a" class="s">4000</text>
<line x1="299.8" y1="481.5" x2="304.3" y2="481.5" stroke="#3a3a3a" stroke-width="0.9"/>
<text x="296.0" y="483.9" font-size="6.7" text-anchor="end" font-weight="bold" fill="#2a2a2a" class="s">5000</text>
<line x1="302.5" y1="619.26" x2="304.3" y2="619.26" stroke="#3a3a3a" stroke-width="0.6"/>
<line x1="302.5" y1="613.52" x2="304.3" y2="613.52" stroke="#3a3a3a" stroke-width="0.6"/>
<line x1="302.5" y1="607.78" x2="304.3" y2="607.78" stroke="#3a3a3a" stroke-width="0.6"/>
<line x1="302.5" y1="602.04" x2="304.3" y2="602.04" stroke="#3a3a3a" stroke-width="0.6"/>
<line x1="302.5" y1="590.56" x2="304.3" y2="590.56" stroke="#3a3a3a" stroke-width="0.6"/>
<line x1="302.5" y1="584.82" x2="304.3" y2="584.82" stroke="#3a3a3a" stroke-width="0.6"/>
<line x1="302.5" y1="579.08" x2="304.3" y2="579.08" stroke="#3a3a3a" stroke-width="0.6"/>
<line x1="302.5" y1="573.34" x2="304.3" y2="573.34" stroke="#3a3a3a" stroke-width="0.6"/>
<line x1="302.5" y1="561.86" x2="304.3" y2="561.86" stroke="#3a3a3a" stroke-width="0.6"/>
<line x1="302.5" y1="556.12" x2="304.3" y2="556.12" stroke="#3a3a3a" stroke-width="0.6"/>
<line x1="302.5" y1="550.38" x2="304.3" y2="550.38" stroke="#3a3a3a" stroke-width="0.6"/>
<line x1="302.5" y1="544.64" x2="304.3" y2="544.64" stroke="#3a3a3a" stroke-width="0.6"/>
<line x1="302.5" y1="533.16" x2="304.3" y2="533.16" stroke="#3a3a3a" stroke-width="0.6"/>
<line x1="302.5" y1="527.42" x2="304.3" y2="527.42" stroke="#3a3a3a" stroke-width="0.6"/>
<line x1="302.5" y1="521.68" x2="304.3" y2="521.68" stroke="#3a3a3a" stroke-width="0.6"/>
<line x1="302.5" y1="515.94" x2="304.3" y2="515.94" stroke="#3a3a3a" stroke-width="0.6"/>
<line x1="302.5" y1="504.46" x2="304.3" y2="504.46" stroke="#3a3a3a" stroke-width="0.6"/>
<line x1="302.5" y1="498.72" x2="304.3" y2="498.72" stroke="#3a3a3a" stroke-width="0.6"/>
<line x1="302.5" y1="492.98" x2="304.3" y2="492.98" stroke="#3a3a3a" stroke-width="0.6"/>
<line x1="302.5" y1="487.24" x2="304.3" y2="487.24" stroke="#3a3a3a" stroke-width="0.6"/>
<line x1="302.5" y1="475.76" x2="304.3" y2="475.76" stroke="#3a3a3a" stroke-width="0.6"/>
<line x1="304.3" y1="624.8" x2="304.3" y2="629.0" stroke="#555" stroke-width="0.9"/>
<text x="304.3" y="637.4" font-size="6.7" text-anchor="middle" font-weight="bold" fill="#2a2a2a" class="s">0</text>
<line x1="311.66" y1="624.8" x2="311.66" y2="627.5" stroke="#666" stroke-width="0.7"/>
<line x1="319.03" y1="624.8" x2="319.03" y2="627.5" stroke="#666" stroke-width="0.7"/>
<line x1="326.39" y1="624.8" x2="326.39" y2="627.5" stroke="#666" stroke-width="0.7"/>
<line x1="333.75" y1="624.8" x2="333.75" y2="629.0" stroke="#555" stroke-width="0.9"/>
<text x="333.75" y="637.4" font-size="6.7" text-anchor="middle" font-weight="bold" fill="#2a2a2a" class="s">200</text>
<line x1="341.11" y1="624.8" x2="341.11" y2="627.5" stroke="#666" stroke-width="0.7"/>
<line x1="348.48" y1="624.8" x2="348.48" y2="627.5" stroke="#666" stroke-width="0.7"/>
<line x1="355.84" y1="624.8" x2="355.84" y2="627.5" stroke="#666" stroke-width="0.7"/>
<line x1="363.2" y1="624.8" x2="363.2" y2="629.0" stroke="#555" stroke-width="0.9"/>
<text x="363.2" y="637.4" font-size="6.7" text-anchor="middle" font-weight="bold" fill="#2a2a2a" class="s">400</text>
<line x1="370.56" y1="624.8" x2="370.56" y2="627.5" stroke="#666" stroke-width="0.7"/>
<line x1="377.93" y1="624.8" x2="377.93" y2="627.5" stroke="#666" stroke-width="0.7"/>
<line x1="385.29" y1="624.8" x2="385.29" y2="627.5" stroke="#666" stroke-width="0.7"/>
<line x1="392.65" y1="624.8" x2="392.65" y2="629.0" stroke="#555" stroke-width="0.9"/>
<text x="392.65" y="637.4" font-size="6.7" text-anchor="middle" font-weight="bold" fill="#2a2a2a" class="s">600</text>
<line x1="400.01" y1="624.8" x2="400.01" y2="627.5" stroke="#666" stroke-width="0.7"/>
<line x1="407.38" y1="624.8" x2="407.38" y2="627.5" stroke="#666" stroke-width="0.7"/>
<line x1="414.74" y1="624.8" x2="414.74" y2="627.5" stroke="#666" stroke-width="0.7"/>
<line x1="422.1" y1="624.8" x2="422.1" y2="629.0" stroke="#555" stroke-width="0.9"/>
<text x="422.1" y="637.4" font-size="6.7" text-anchor="middle" font-weight="bold" fill="#2a2a2a" class="s">800</text>
<line x1="429.46" y1="624.8" x2="429.46" y2="627.5" stroke="#666" stroke-width="0.7"/>
<line x1="436.83" y1="624.8" x2="436.83" y2="627.5" stroke="#666" stroke-width="0.7"/>
<line x1="444.19" y1="624.8" x2="444.19" y2="627.5" stroke="#666" stroke-width="0.7"/>
<line x1="451.55" y1="624.8" x2="451.55" y2="629.0" stroke="#555" stroke-width="0.9"/>
<text x="451.55" y="637.4" font-size="6.7" text-anchor="middle" font-weight="bold" fill="#2a2a2a" class="s">1000</text>
<text transform="translate(273.8 548.5) rotate(-90)" font-size="6.6" text-anchor="middle" font-weight="bold" fill="#2a2a2a" class="s"># Cells</text>
<text x="363.5" y="652.4" font-size="7.0" text-anchor="middle" font-weight="bold" fill="#2a2a2a" class="s">FL2-A</text>
<path d="M330.2 625L331.1 614L331.9 584L332.7 534.6L333.3 505L333.6 492.2L333.9 505L334.2 534.6L334.9 584L335.6 614L336.3 622L338.1 623.8L345 624L352 623.8L358.1 623.2L360 621.4L361.4 618.7L362.9 621.4L364.5 625Z" fill="#cfcfcf" stroke="#8a8a8a" stroke-width="0.8" stroke-linejoin="round"/>
<path d="M330.5 625L331.2 614L331.9 584L332.7 534.6L333.6 493L334.2 534.6L334.9 584L335.6 614L336.4 625Z" fill="#a2a2a2" stroke="#808080" stroke-width="0.5"/>
<path d="M337.1 581.7H357.59999999999997M340.7 577.9000000000001L336.90000000000003 581.7L340.7 585.5M354.0 577.9000000000001L357.79999999999995 581.7L354.0 585.5" fill="none" stroke="#000" stroke-width="1.5" stroke-linejoin="miter"/>
<text x="337.5" y="571.3" font-size="13" text-anchor="start" font-weight="normal" fill="#000" textLength="77.2" lengthAdjust="spacingAndGlyphs">S-phase: 17%</text>
<rect x="67.5" y="705.75" width="19.25" height="121.35" fill="#000"/>
<rect x="87.15" y="786.15" width="18.2" height="40.95" fill="#999" stroke="#3c3c3c" stroke-width="0.9"/>
<path d="M77.12 705.75V695M75.02000000000001 695H79.22" fill="none" stroke="#2a2a2a" stroke-width="1.0"/>
<path d="M96.25 793.25V778.25M94.15 778.25H98.35M94.15 793.25H98.35" fill="none" stroke="#2a2a2a" stroke-width="1.0"/>
<rect x="134.25" y="713.75" width="19.0" height="113.35" fill="#000"/>
<rect x="153.65" y="750.9" width="18.45" height="76.2" fill="#999" stroke="#3c3c3c" stroke-width="0.9"/>
<path d="M143.75 713.75V706.75M141.65 706.75H145.85" fill="none" stroke="#2a2a2a" stroke-width="1.0"/>
<path d="M162.88 767V734.25M160.78 734.25H164.98M160.78 767H164.98" fill="none" stroke="#2a2a2a" stroke-width="1.0"/>
<rect x="200.75" y="706.75" width="18.75" height="120.35" fill="#000"/>
<rect x="219.9" y="725.9" width="18.45" height="101.2" fill="#999" stroke="#3c3c3c" stroke-width="0.9"/>
<path d="M210.12 706.75V704.25M208.02 704.25H212.22" fill="none" stroke="#2a2a2a" stroke-width="1.0"/>
<path d="M229.12 734.25V716.25M227.02 716.25H231.22M227.02 734.25H231.22" fill="none" stroke="#2a2a2a" stroke-width="1.0"/>
<rect x="267.5" y="728.75" width="18.75" height="98.35" fill="#000"/>
<rect x="286.65" y="749.9" width="18.45" height="77.2" fill="#999" stroke="#3c3c3c" stroke-width="0.9"/>
<path d="M276.88 728.75V721.75M274.78 721.75H278.98" fill="none" stroke="#2a2a2a" stroke-width="1.0"/>
<path d="M295.88 757V742.5M293.78 742.5H297.98M293.78 757H297.98" fill="none" stroke="#2a2a2a" stroke-width="1.0"/>
<rect x="333.75" y="714.25" width="19.25" height="112.85" fill="#000"/>
<rect x="353.4" y="713.4" width="18.2" height="113.7" fill="#999" stroke="#3c3c3c" stroke-width="0.9"/>
<path d="M343.38 714.25V710.5M341.28 710.5H345.48" fill="none" stroke="#2a2a2a" stroke-width="1.0"/>
<path d="M362.5 715V710.5M360.4 710.5H364.6M360.4 715H364.6" fill="none" stroke="#2a2a2a" stroke-width="1.0"/>
<rect x="400.5" y="710.5" width="19.0" height="116.6" fill="#000"/>
<rect x="419.9" y="709.9" width="18.45" height="117.2" fill="#999" stroke="#3c3c3c" stroke-width="0.9"/>
<path d="M410.0 710.5V708M407.9 708H412.1" fill="none" stroke="#2a2a2a" stroke-width="1.0"/>
<path d="M429.12 710.75V707.5M427.02 707.5H431.22M427.02 710.75H431.22" fill="none" stroke="#2a2a2a" stroke-width="1.0"/>
<line x1="53.6" y1="680.45" x2="53.6" y2="827.6" stroke="#8c8c8c" stroke-width="1"/>
<line x1="53.1" y1="827.1" x2="453.0" y2="827.1" stroke="#8c8c8c" stroke-width="1"/>
<line x1="48.800000000000004" y1="827.1" x2="53.6" y2="827.1" stroke="#8c8c8c" stroke-width="1"/>
<text x="39.8" y="831.35" font-size="13.2" text-anchor="end" font-weight="normal" fill="#000">0</text>
<line x1="48.800000000000004" y1="806.15" x2="53.6" y2="806.15" stroke="#8c8c8c" stroke-width="1"/>
<text x="39.8" y="810.4" font-size="13.2" text-anchor="end" font-weight="normal" fill="#000">10</text>
<line x1="48.800000000000004" y1="785.2" x2="53.6" y2="785.2" stroke="#8c8c8c" stroke-width="1"/>
<text x="39.8" y="789.45" font-size="13.2" text-anchor="end" font-weight="normal" fill="#000">20</text>
<line x1="48.800000000000004" y1="764.25" x2="53.6" y2="764.25" stroke="#8c8c8c" stroke-width="1"/>
<text x="39.8" y="768.5" font-size="13.2" text-anchor="end" font-weight="normal" fill="#000">30</text>
<line x1="48.800000000000004" y1="743.3" x2="53.6" y2="743.3" stroke="#8c8c8c" stroke-width="1"/>
<text x="39.8" y="747.55" font-size="13.2" text-anchor="end" font-weight="normal" fill="#000">40</text>
<line x1="48.800000000000004" y1="722.35" x2="53.6" y2="722.35" stroke="#8c8c8c" stroke-width="1"/>
<text x="39.8" y="726.6" font-size="13.2" text-anchor="end" font-weight="normal" fill="#000">50</text>
<line x1="48.800000000000004" y1="701.4" x2="53.6" y2="701.4" stroke="#8c8c8c" stroke-width="1"/>
<text x="39.8" y="705.65" font-size="13.2" text-anchor="end" font-weight="normal" fill="#000">60</text>
<line x1="48.800000000000004" y1="680.45" x2="53.6" y2="680.45" stroke="#8c8c8c" stroke-width="1"/>
<text x="39.8" y="684.7" font-size="13.2" text-anchor="end" font-weight="normal" fill="#000">70</text>
<line x1="120" y1="827.1" x2="120" y2="830.7" stroke="#8c8c8c" stroke-width="1"/>
<line x1="186.6" y1="827.1" x2="186.6" y2="830.7" stroke="#8c8c8c" stroke-width="1"/>
<line x1="252.4" y1="827.1" x2="252.4" y2="830.7" stroke="#8c8c8c" stroke-width="1"/>
<line x1="320" y1="827.1" x2="320" y2="830.7" stroke="#8c8c8c" stroke-width="1"/>
<line x1="385.9" y1="827.1" x2="385.9" y2="830.7" stroke="#8c8c8c" stroke-width="1"/>
<line x1="452.5" y1="827.1" x2="452.5" y2="830.7" stroke="#8c8c8c" stroke-width="1"/>
<line x1="53.6" y1="827.1" x2="53.6" y2="830.7" stroke="#8c8c8c" stroke-width="1"/>
<text transform="translate(15.2 752.2) rotate(-90)" font-size="13.2" text-anchor="middle" font-weight="normal" fill="#000" textLength="67" lengthAdjust="spacingAndGlyphs">S-phase (%)</text>
<path d="M74.5 689.5V686.5Q74.5 685 76 685H96.5Q98 685 98 686.5V766.8" fill="none" stroke="#000" stroke-width="1.8"/>
<text x="85.7" y="685.08" font-size="15.6" text-anchor="middle" style="font-family:'DejaVu Sans',sans-serif">*</text>
<path d="M142.5 698.3V695.8Q142.5 694.3 144 694.3H163.5Q165 694.3 165 695.8V725.5" fill="none" stroke="#000" stroke-width="1.8"/>
<text x="154.4" y="694.11" font-size="16.2" text-anchor="middle" style="font-family:'DejaVu Sans',sans-serif">*</text>
<path d="M277.5 716.3V713.5Q277.5 712 279 712H298.5Q300 712 300 713.5V734.3" fill="none" stroke="#000" stroke-width="1.8"/>
<text x="289.3" y="712.11" font-size="16.2" text-anchor="middle" style="font-family:'DejaVu Sans',sans-serif">*</text>
<text x="59.25" y="851.1" font-size="11.6" text-anchor="start" font-weight="normal" fill="#111" textLength="55.0" lengthAdjust="spacingAndGlyphs">FOXO3(d2)</text>
<text x="125.4" y="851.1" font-size="11.6" text-anchor="start" font-weight="normal" fill="#111" textLength="55.4" lengthAdjust="spacingAndGlyphs">FOXO3(d5)</text>
<text x="190.9" y="851.1" font-size="11.6" text-anchor="start" font-weight="normal" fill="#111" textLength="58.5" lengthAdjust="spacingAndGlyphs">PRDM1(d2)</text>
<text x="256.7" y="851.1" font-size="11.6" text-anchor="start" font-weight="normal" fill="#111" textLength="59.3" lengthAdjust="spacingAndGlyphs">PRDM1(d5)</text>
<text x="336" y="851.1" font-size="11.6" text-anchor="start" font-weight="normal" fill="#111" textLength="33" lengthAdjust="spacingAndGlyphs">Vector</text>
<text x="323.5" y="866.6" font-size="11.6" text-anchor="start" font-weight="normal" fill="#111" textLength="58.0" lengthAdjust="spacingAndGlyphs">Control(d2)</text>
<text x="402.9" y="851.1" font-size="11.6" text-anchor="start" font-weight="normal" fill="#111" textLength="32.6" lengthAdjust="spacingAndGlyphs">Vector</text>
<text x="390.2" y="866.6" font-size="11.6" text-anchor="start" font-weight="normal" fill="#111" textLength="58.2" lengthAdjust="spacingAndGlyphs">Control(d5)</text>
<rect x="467.7" y="741.9" width="8.4" height="8.2" fill="#000"/>
<rect x="468.1" y="765.8" width="7.6" height="7.7" fill="#999" stroke="#3c3c3c" stroke-width="0.9"/>
<text x="480" y="750.1" font-size="12.8" text-anchor="start" font-weight="normal" fill="#000" textLength="36.9" lengthAdjust="spacingAndGlyphs">Dox(+)</text>
<text x="480" y="773.5" font-size="12.8" text-anchor="start" font-weight="normal" fill="#000" textLength="34.3" lengthAdjust="spacingAndGlyphs">Dox(-)</text>
</svg>
</body></html>
